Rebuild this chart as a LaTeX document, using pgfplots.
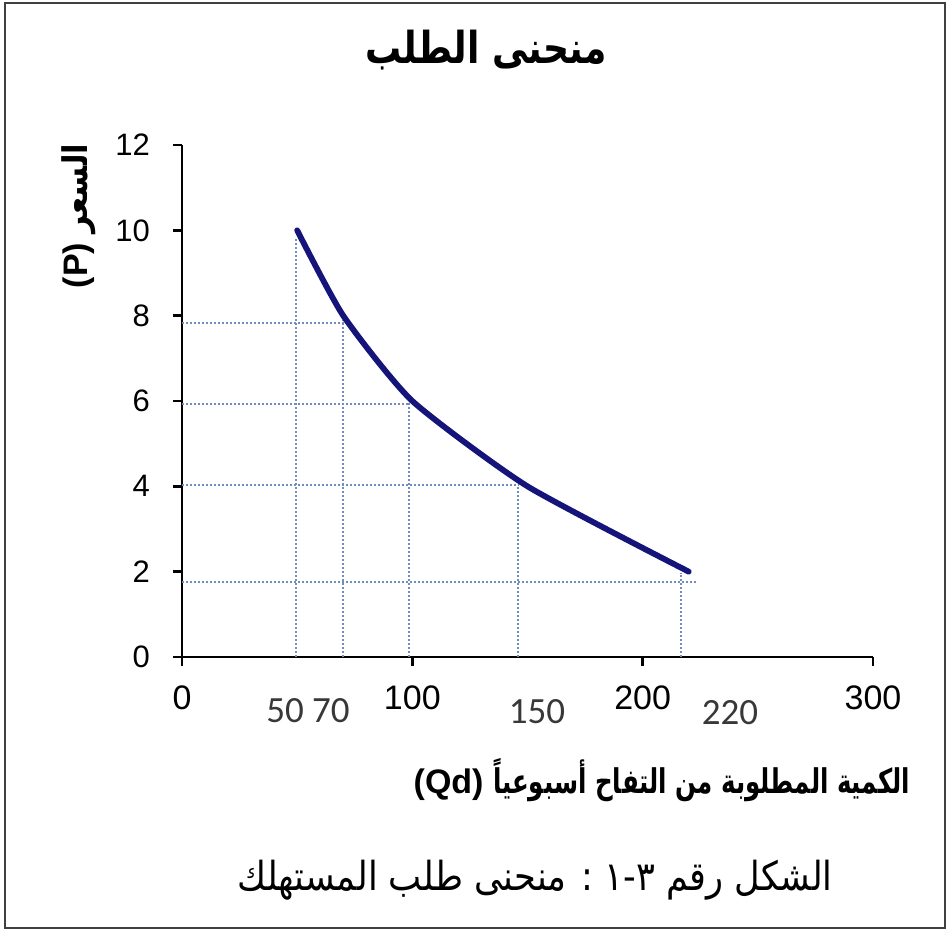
\documentclass[border=0pt]{standalone}
\usepackage{fontspec}
\setmainfont{Liberation Sans}
\newfontfamily\arabicfont[Script=Arabic]{DejaVu Sans}
\newfontfamily\calfont{Carlito}
\TeXXeTstate=1
\usepackage{pgfplots}
\pgfplotsset{compat=1.18}
\definecolor{curveblue}{HTML}{14147A}
\definecolor{guidecol}{HTML}{6F8DC0}

\begin{document}
\begin{tikzpicture}
\begin{axis}[
  at={(91pt,138pt)}, anchor=south west,
  scale only axis, width=345.5pt, height=256pt,
  xmin=0, xmax=300, ymin=0, ymax=12,
  axis x line*=bottom, axis y line*=left,
  axis line style={line width=1.3pt},
  xtick={0,100,200,300}, ytick={0,2,...,12},
  tick align=outside, major tick length=4.5pt,
  every tick/.style={line width=1.3pt, black},
  /pgf/number format/assume math mode=true,
  xticklabel style={font=\fontsize{17}{17}\selectfont, yshift=-6.5pt},
  yticklabel style={font=\fontsize{15.5}{15.5}\selectfont, xshift=-8pt},
  clip=false,
  dropline/.style={guidecol, line width=1pt, dash pattern=on 1pt off 1pt},
]
% drop lines from the demand schedule to the axes
\addplot[dropline] coordinates {(49.3,0) (49.3,9.8)};
\addplot[dropline] coordinates {(69.8,0) (69.8,7.9)};
\addplot[dropline] coordinates {(98.6,0) (98.6,5.95)};
\addplot[dropline] coordinates {(146,0) (146,4.03)};
\addplot[dropline] coordinates {(216.5,0) (216.5,1.97)};
\addplot[dropline] coordinates {(0,7.83) (70.8,7.83)};
\addplot[dropline] coordinates {(0,5.93) (98,5.93)};
\addplot[dropline] coordinates {(0,4.03) (146,4.03)};
\addplot[dropline] coordinates {(0,1.76) (223.6,1.76)};
% demand curve
\addplot[curveblue, line width=2.9pt, smooth, tension=0.35, line cap=round] coordinates {
  (50,10) (70,8) (100,6) (150,4) (220,2)
};
\end{axis}
% texts and frame on a 949 x 933 grid, origin at the bottom left
\begin{scope}[x=0.5pt,y=0.5pt]
\path[use as bounding box] (0,0) rectangle (949,933);
\draw[line width=1.2pt, black!75] (5,5) rectangle (945,930);
% title
\node[font=\arabicfont\bfseries\fontsize{22}{22}\selectfont] at (486,883) {\scalebox{0.82}[1]{\beginR منحنى الطلب\endR}};
% axis titles
\node[rotate=90, font=\bfseries\fontsize{17}{17}\selectfont] at (79,717) {(P) \scalebox{0.9}[1]{\arabicfont\beginR السعر\endR}};
\node[font=\bfseries\fontsize{17}{17}\selectfont] at (662,153) {(Qd) \scalebox{0.72}[1]{\arabicfont\beginR الكمية المطلوبة من التفاح أسبوعياً\endR}};
% quantity annotations
\node[font=\calfont\fontsize{18.5}{18.5}\selectfont, text=black!78] at (308,222) {50 70};
\node[font=\calfont\fontsize{18.5}{18.5}\selectfont, text=black!78] at (537,221) {150};
\node[font=\calfont\fontsize{18.5}{18.5}\selectfont, text=black!78] at (730,220) {220};
% caption
\node[font=\arabicfont\fontsize{20}{20}\selectfont] at (535,53) {\scalebox{0.88}[1]{\beginR الشكل رقم ٣\kern0pt-\kern0pt١\kern0pt{} : منحنى طلب المستهلك\endR}};
\end{scope}
\end{tikzpicture}
\end{document}
